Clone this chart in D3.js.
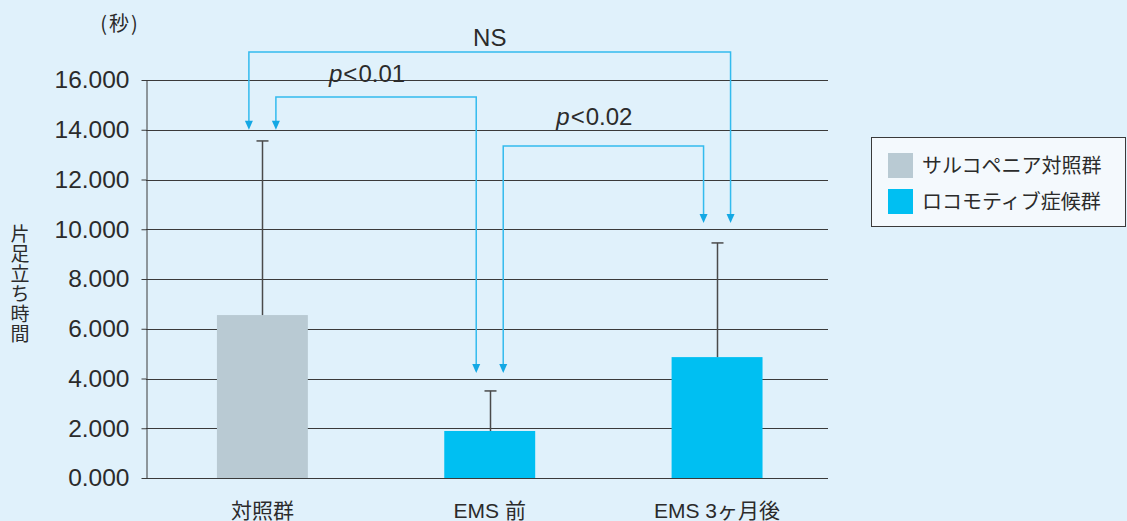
<!DOCTYPE html>
<html lang="ja">
<head>
<meta charset="utf-8">
<script src="https://cdn.jsdelivr.net/npm/d3@7"></script>
<style>
  html, body { margin: 0; padding: 0; background: #e0f1fb; }
  svg { display: block; }
  text { fill: #2b2b2b; }
</style>
</head>
<body>
<svg id="chart" width="1127" height="521"></svg>
<script>
// 片足立ち時間（秒）: 平均値と標準偏差の上端
const categories = ["対照群", "EMS 前", "EMS 3ヶ月後"];
const barGroups = ["サルコペニア対照群", "ロコモティブ症候群", "ロコモティブ症候群"];
const meanValues = [6.55, 1.89, 4.86];
const errorTopValues = [13.55, 3.50, 9.45];
const yTickValues = [0, 2, 4, 6, 8, 10, 12, 14, 16];

// 有意差の表示（比較するカテゴリの番号、ブラケットの高さ、矢印の先端）
const bracketLabels = ["NS", "p<0.01", "p<0.02"];
const bracketFrom = [0, 0, 1];
const bracketTo = [2, 1, 2];
const bracketLevels = [17.13, 15.32, 13.35];
const bracketFromTips = [14.0, 14.0, 4.22];
const bracketToTips = [10.25, 4.22, 10.25];

const legendItems = ["サルコペニア対照群", "ロコモティブ症候群"];
const legendColors = ["#b9cad3", "#00bff2"];

const svg = d3.select("#chart");
const font = "'Liberation Sans', Arial, 'Noto Sans CJK JP', sans-serif";
const jpFont = "'Noto Sans CJK JP', sans-serif";

const margin = { left: 146, right: 299, top: 80, bottom: 43 };
const W = 1127, H = 521;

const x = d3.scaleBand()
  .domain(categories)
  .range([margin.left, W - margin.right])
  .paddingInner(0.6)
  .paddingOuter(0.3)
  .align(0.52);

const y = d3.scaleLinear()
  .domain([0, 16])
  .range([H - margin.bottom, margin.top]);

const color = d3.scaleOrdinal().domain(legendItems).range(legendColors);

// 目盛線
svg.append("g")
  .selectAll("line")
  .data(yTickValues)
  .join("line")
  .attr("x1", margin.left)
  .attr("x2", W - margin.right)
  .attr("y1", d => Math.round(y(d)) + 0.5)
  .attr("y2", d => Math.round(y(d)) + 0.5)
  .attr("stroke", "#3a3a3a")
  .attr("stroke-width", 1);

// Y軸
const yAxis = svg.append("g")
  .attr("transform", `translate(${margin.left + 0.5},0)`)
  .call(d3.axisLeft(y).tickValues(yTickValues).tickFormat(d3.format(".3f")).tickSize(5).tickSizeOuter(0).tickPadding(12));
yAxis.select(".domain").attr("stroke", "#3a3a3a");
yAxis.selectAll(".tick line").attr("stroke", "#3a3a3a");
yAxis.selectAll(".tick text")
  .attr("font-family", font)
  .attr("font-size", 24.5)
  .attr("fill", "#2b2b2b");

// 棒
svg.append("g")
  .selectAll("rect")
  .data(categories)
  .join("rect")
  .attr("x", d => x(d))
  .attr("width", x.bandwidth())
  .attr("y", (d, i) => y(meanValues[i]))
  .attr("height", (d, i) => y(0) - y(meanValues[i]))
  .attr("fill", (d, i) => color(barGroups[i]));

// エラーバー（上側のみ）
const eb = svg.append("g").attr("stroke", "#4a4a4a").attr("stroke-width", 1.5);
categories.forEach((c, i) => {
  const cx = Math.round(x(c) + x.bandwidth() / 2) + 0.5;
  eb.append("line").attr("x1", cx).attr("x2", cx)
    .attr("y1", y(meanValues[i])).attr("y2", y(errorTopValues[i]));
  eb.append("line").attr("x1", cx - 6).attr("x2", cx + 6)
    .attr("y1", y(errorTopValues[i])).attr("y2", y(errorTopValues[i]));
});

// 有意差ブラケット（外側のブラケットは棒の外寄り、内側は内寄りに降りる）
const bracketColor = "#33bbee";
const arrowColor = "#14a8e4";
const sideOffset = 13.5;
const fromSide = [-1, 1, 1];
const toSide = [1, -1, -1];
const labelOffsets = [14, 23, 29];
const labelShift = [0, -9, -9];
const bg = svg.append("g");
bracketLabels.forEach((lab, i) => {
  const xa = x(categories[bracketFrom[i]]) + x.bandwidth() / 2 + fromSide[i] * sideOffset;
  const xb = x(categories[bracketTo[i]]) + x.bandwidth() / 2 + toSide[i] * sideOffset;
  const yl = y(bracketLevels[i]);
  const ya = y(bracketFromTips[i]);
  const yb = y(bracketToTips[i]);
  bg.append("path")
    .attr("d", `M${xa},${ya - 7}V${yl}H${xb}V${yb - 7}`)
    .attr("fill", "none")
    .attr("stroke", bracketColor)
    .attr("stroke-width", 1.5);
  [[xa, ya], [xb, yb]].forEach(([px, py]) => {
    bg.append("path")
      .attr("d", `M${px - 4},${py - 9}L${px + 4},${py - 9}L${px},${py}Z`)
      .attr("fill", arrowColor);
  });
  const t = bg.append("text")
    .attr("x", (xa + xb) / 2 + labelShift[i])
    .attr("y", yl - labelOffsets[i] + 8)
    .attr("text-anchor", "middle")
    .attr("font-family", font)
    .attr("font-size", 24);
  if (lab.startsWith("p")) {
    t.append("tspan").attr("font-style", "italic").text("p");
    t.append("tspan").attr("dx", 1).text(lab.slice(1, 2));
    t.append("tspan").attr("dx", 1).text(lab.slice(2));
  } else {
    t.text(lab);
  }
});

// カテゴリ名
svg.append("g")
  .selectAll("text")
  .data(categories)
  .join("text")
  .attr("x", d => x(d) + x.bandwidth() / 2)
  .attr("y", 518)
  .attr("text-anchor", "middle")
  .attr("font-family", font)
  .attr("font-size", 21)
  .text(d => d);

// 単位
svg.append("text")
  .attr("x", 120).attr("y", 31)
  .attr("text-anchor", "middle")
  .attr("font-family", jpFont)
  .attr("font-size", 20)
  .attr("letter-spacing", 2)
  .text("(秒)");

// Y軸タイトル（縦書き）
svg.append("text")
  .attr("x", 20)
  .attr("y", 224)
  .style("writing-mode", "vertical-rl")
  .attr("font-family", jpFont)
  .attr("font-size", 19)
  .attr("letter-spacing", 1)
  .text("片足立ち時間");

// 凡例
const lg = svg.append("g");
lg.append("rect")
  .attr("x", 871.5).attr("y", 137.5)
  .attr("width", 254).attr("height", 89)
  .attr("fill", "#f4f9fd")
  .attr("stroke", "#3a3a3a")
  .attr("stroke-width", 1);
legendItems.forEach((item, i) => {
  lg.append("rect")
    .attr("x", 888).attr("y", 153 + i * 36)
    .attr("width", 25).attr("height", 25)
    .attr("fill", legendColors[i]);
  lg.append("text")
    .attr("x", 922).attr("y", 173 + i * 36)
    .attr("font-family", jpFont)
    .attr("font-size", 20)
    .text(item);
});
</script>
</body>
</html>
